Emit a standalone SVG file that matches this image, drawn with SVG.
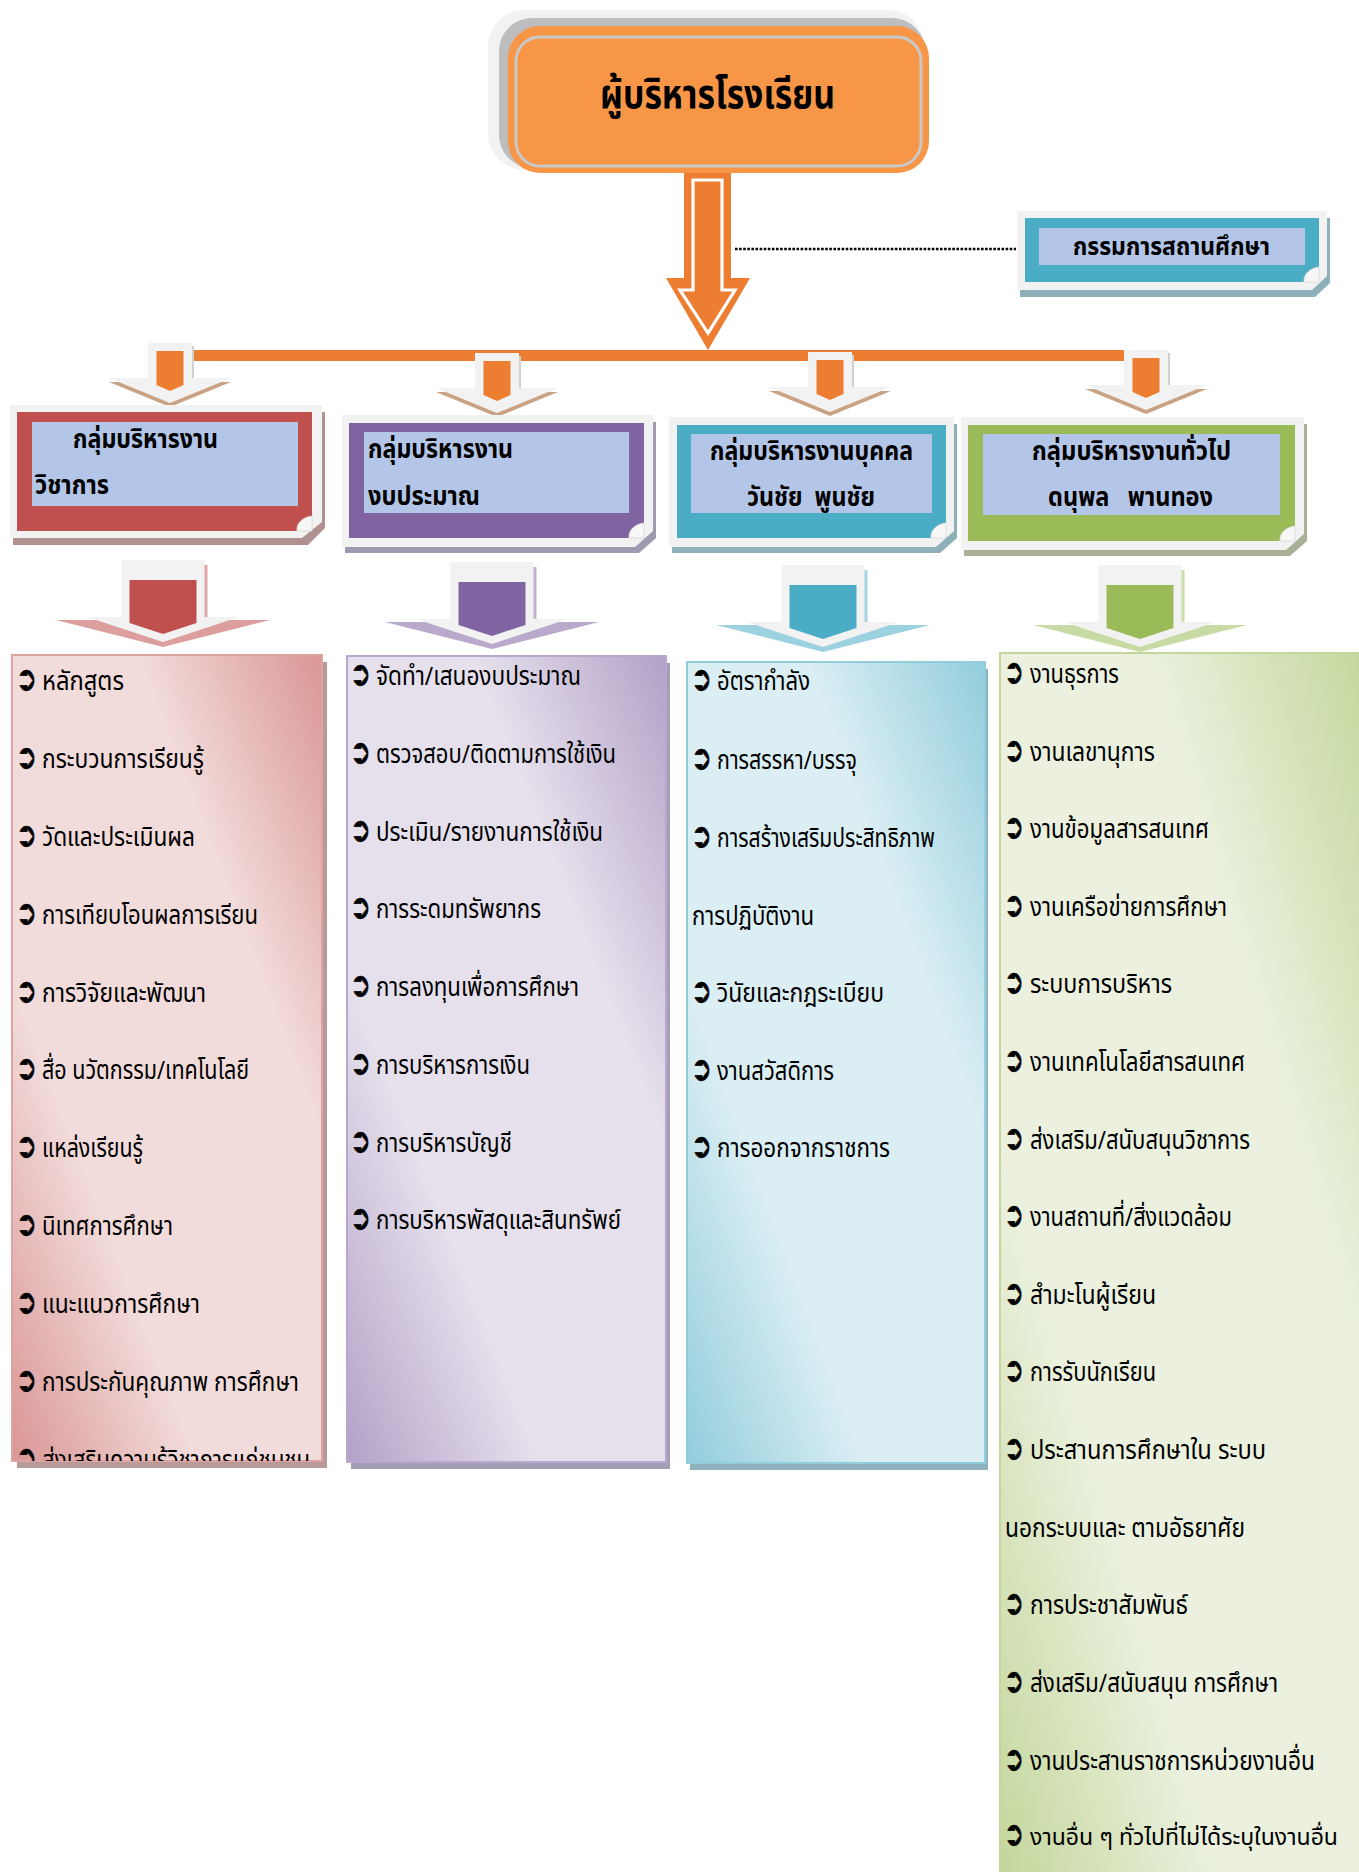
<svg xmlns="http://www.w3.org/2000/svg" xmlns:xlink="http://www.w3.org/1999/xlink" width="1359" height="1872" viewBox="0 0 1359 1872">
<defs>
<style>
.hd{font-family:"Noto Sans Thai","Tahoma","Noto Sans",sans-serif;font-weight:bold;font-size:26px;fill:#000}
.li{font-family:"Noto Sans Thai","Tahoma","Noto Sans",sans-serif;font-size:26px;fill:#000}
.b{font-family:"DejaVu Sans",sans-serif;font-size:34px;font-weight:bold;fill:#000;stroke:#000;stroke-width:0.6px}
.frame{fill:#f2f2f2}
.lav{fill:#b4c6e7}
</style>
<linearGradient id="gR" x1="0" y1="1" x2="1" y2="0"><stop offset="0" stop-color="#d99694"/><stop offset="0.3" stop-color="#f2dcdb"/><stop offset="0.7" stop-color="#f2dcdb"/><stop offset="1" stop-color="#d99694"/></linearGradient>
<linearGradient id="gP" x1="0" y1="1" x2="1" y2="0"><stop offset="0" stop-color="#b2a1c7"/><stop offset="0.3" stop-color="#e5e0ec"/><stop offset="0.7" stop-color="#e5e0ec"/><stop offset="1" stop-color="#b2a1c7"/></linearGradient>
<linearGradient id="gT" x1="0" y1="1" x2="1" y2="0"><stop offset="0" stop-color="#92cddc"/><stop offset="0.3" stop-color="#dbeef4"/><stop offset="0.7" stop-color="#dbeef4"/><stop offset="1" stop-color="#92cddc"/></linearGradient>
<linearGradient id="gG" x1="0" y1="1" x2="1" y2="0"><stop offset="0" stop-color="#c3d69b"/><stop offset="0.3" stop-color="#ebf1de"/><stop offset="0.7" stop-color="#ebf1de"/><stop offset="1" stop-color="#c3d69b"/></linearGradient>
<g id="sa">
<polygon points="-61,39 61,39 0,64" fill="#c8a283"/>
<rect x="-22" y="0" width="44" height="38" fill="#f2f2f2"/>
<rect x="22" y="3" width="2" height="35" fill="#d0d0d0"/>
<polygon points="-61,35 61,35 0,60" fill="#f2f2f2"/>
<path d="M-13.5,8H13.5V42L0,48L-13.5,42Z" fill="#ed7d31"/>
</g>
<g id="ba">
<polygon points="-107,60 107,60 0,87" opacity="0.55"/>
<rect x="-41.5" y="0" width="83" height="58" fill="#f2f2f2"/>
<rect x="41.5" y="5" width="3" height="53" opacity="0.5"/>
<polygon points="-76,57 76,57 0,82" fill="#f2f2f2"/>
<path d="M-33.5,20H33.5V63L0,74L-33.5,63Z"/>
</g>
<path id="curl" d="M-15,0 C-16,-8 -9,-14 0,-15 L0,0 Z" fill="#f7f7f7" stroke="#d8d8d8" stroke-width="0.8"/>
<clipPath id="cR"><rect x="12" y="655" width="310" height="806"/></clipPath>
</defs>

<g id="connectors">
<rect x="170" y="350" width="980" height="11" fill="#ed7d31"/>
<line x1="735" y1="249" x2="1016" y2="249" stroke="#000" stroke-width="2.6" stroke-dasharray="2.6 1.5"/>
<polygon points="684,173 731,173 731,278 750,278 708,350 666,278 684,278" fill="#ed7d31"/>
<polygon points="693,180 722,180 722,290 735,290 708,333 680,290 693,290" fill="#ed7d31" stroke="#fff" stroke-width="3.2"/>
<use xlink:href="#sa" x="170" y="343"/>
<use xlink:href="#sa" x="497" y="353"/>
<use xlink:href="#sa" x="830" y="352"/>
<use xlink:href="#sa" x="1146" y="350"/>
<use xlink:href="#ba" x="163" y="560" fill="#c0504d"/>
<use xlink:href="#ba" x="492" y="562" fill="#8064a2"/>
<use xlink:href="#ba" x="823" y="565" fill="#4bacc6"/>
<use xlink:href="#ba" x="1140" y="565" fill="#9bbb59"/>
</g>

<g id="top">
<rect x="488" y="10" width="436" height="160" rx="36" fill="#f2f2f2"/>
<rect x="499" y="18" width="426" height="150" rx="33" fill="#bdbdbd"/>
<rect x="508" y="26" width="421" height="147" rx="32" fill="#f79646"/>
<rect x="516" y="37" width="405" height="129" rx="24" fill="#f79646" stroke="#c8c8c8" stroke-width="3"/>
<text class="hd" x="600" y="108" style="font-size:40px" textLength="235" lengthAdjust="spacingAndGlyphs">ผู้บริหารโรงเรียน</text>
</g>

<g id="committee">
<path d="M1020,218H1330V283L1315,297H1020Z" fill="#8eb0b8"/>
<path d="M1017,211H1327V276L1312,290H1017Z" class="frame"/>
<rect x="1025" y="218" width="294" height="64" fill="#4bacc6"/>
<rect x="1039" y="228" width="266" height="37" class="lav"/>
<use xlink:href="#curl" x="1319" y="282"/>
<text class="hd" x="1073" y="255" style="font-size:24px" textLength="197" lengthAdjust="spacingAndGlyphs">กรรมการสถานศึกษา</text>
</g>

<g id="group1">
<path d="M13,412H325V528L308,545H13Z" fill="#b09090"/>
<path d="M10,405H322V522L302,538H10Z" class="frame"/>
<rect x="17" y="412" width="295" height="119" fill="#c0504d"/>
<rect x="32" y="422" width="266" height="84" class="lav"/>
<use xlink:href="#curl" x="312" y="531"/>
<text class="hd" x="73" y="448" textLength="145" lengthAdjust="spacingAndGlyphs">กลุ่มบริหารงาน</text>
<text class="hd" x="35" y="494" textLength="74" lengthAdjust="spacingAndGlyphs">วิชาการ</text>
</g>

<g id="group2">
<path d="M345,422H656V538L639,553H345Z" fill="#a09ab0"/>
<path d="M342,415H653V531L635,547H342Z" class="frame"/>
<rect x="349" y="423" width="295" height="115" fill="#8064a2"/>
<rect x="364" y="432" width="265" height="81" class="lav"/>
<use xlink:href="#curl" x="644" y="538"/>
<text class="hd" x="368" y="458" textLength="145" lengthAdjust="spacingAndGlyphs">กลุ่มบริหารงาน</text>
<text class="hd" x="368" y="505" textLength="112" lengthAdjust="spacingAndGlyphs">งบประมาณ</text>
</g>

<g id="group3">
<path d="M672,424H957V538L940,553H672Z" fill="#8eb0b8"/>
<path d="M669,417H954V531L936,547H669Z" class="frame"/>
<rect x="677" y="425" width="269" height="113" fill="#4bacc6"/>
<rect x="691" y="434" width="241" height="79" class="lav"/>
<use xlink:href="#curl" x="946" y="538"/>
<text class="hd" x="710" y="460" textLength="203" lengthAdjust="spacingAndGlyphs">กลุ่มบริหารงานบุคคล</text>
<text class="hd" x="747" y="506" textLength="128" lengthAdjust="spacingAndGlyphs">วันชัย&#160; พูนชัย</text>
</g>

<g id="group4">
<path d="M964,424H1307V541L1290,556H964Z" fill="#a8b098"/>
<path d="M961,417H1304V534L1286,550H961Z" class="frame"/>
<rect x="968" y="425" width="327" height="116" fill="#9bbb59"/>
<rect x="983" y="434" width="297" height="81" class="lav"/>
<use xlink:href="#curl" x="1295" y="541"/>
<text class="hd" x="1032" y="460" textLength="199" lengthAdjust="spacingAndGlyphs">กลุ่มบริหารงานทั่วไป</text>
<text class="hd" x="1048" y="506" textLength="165" lengthAdjust="spacingAndGlyphs">ดนุพล&#160;&#160; พานทอง</text>
</g>

<g id="list1">
<rect x="17" y="662" width="310" height="806" fill="#b89a9a"/>
<rect x="12" y="655" width="310" height="806" fill="url(#gR)" stroke="#dfa3a2" stroke-width="2"/>
<g clip-path="url(#cR)">
<text class="b" x="16" y="690" textLength="21" lengthAdjust="spacingAndGlyphs">➲</text><text class="li" x="42" y="690" textLength="82" lengthAdjust="spacingAndGlyphs">หลักสูตร</text>
<text class="b" x="16" y="768" textLength="21" lengthAdjust="spacingAndGlyphs">➲</text><text class="li" x="42" y="768" textLength="162" lengthAdjust="spacingAndGlyphs">กระบวนการเรียนรู้</text>
<text class="b" x="16" y="846" textLength="21" lengthAdjust="spacingAndGlyphs">➲</text><text class="li" x="42" y="846" textLength="153" lengthAdjust="spacingAndGlyphs">วัดและประเมินผล</text>
<text class="b" x="16" y="924" textLength="21" lengthAdjust="spacingAndGlyphs">➲</text><text class="li" x="42" y="924" textLength="216" lengthAdjust="spacingAndGlyphs">การเทียบโอนผลการเรียน</text>
<text class="b" x="16" y="1002" textLength="21" lengthAdjust="spacingAndGlyphs">➲</text><text class="li" x="42" y="1002" textLength="164" lengthAdjust="spacingAndGlyphs">การวิจัยและพัฒนา</text>
<text class="b" x="16" y="1079" textLength="21" lengthAdjust="spacingAndGlyphs">➲</text><text class="li" x="42" y="1079" textLength="207" lengthAdjust="spacingAndGlyphs">สื่อ นวัตกรรม/เทคโนโลยี</text>
<text class="b" x="16" y="1157" textLength="21" lengthAdjust="spacingAndGlyphs">➲</text><text class="li" x="42" y="1157" textLength="101" lengthAdjust="spacingAndGlyphs">แหล่งเรียนรู้</text>
<text class="b" x="16" y="1235" textLength="21" lengthAdjust="spacingAndGlyphs">➲</text><text class="li" x="42" y="1235" textLength="131" lengthAdjust="spacingAndGlyphs">นิเทศการศึกษา</text>
<text class="b" x="16" y="1313" textLength="21" lengthAdjust="spacingAndGlyphs">➲</text><text class="li" x="42" y="1313" textLength="158" lengthAdjust="spacingAndGlyphs">แนะแนวการศึกษา</text>
<text class="b" x="16" y="1391" textLength="21" lengthAdjust="spacingAndGlyphs">➲</text><text class="li" x="42" y="1391" textLength="257" lengthAdjust="spacingAndGlyphs">การประกันคุณภาพ การศึกษา</text>
<text class="b" x="16" y="1469" textLength="21" lengthAdjust="spacingAndGlyphs">➲</text><text class="li" x="42" y="1469" textLength="268" lengthAdjust="spacingAndGlyphs">ส่งเสริมความรู้วิชาการแก่ชุมชน</text>
</g>
</g>

<g id="list2">
<rect x="351" y="663" width="319" height="806" fill="#a59eb5"/>
<rect x="347" y="656" width="319" height="806" fill="url(#gP)" stroke="#b8a8cf" stroke-width="2"/>
<text class="b" x="350" y="685" textLength="21" lengthAdjust="spacingAndGlyphs">➲</text><text class="li" x="376" y="685" textLength="205" lengthAdjust="spacingAndGlyphs">จัดทำ/เสนองบประมาณ</text>
<text class="b" x="350" y="763" textLength="21" lengthAdjust="spacingAndGlyphs">➲</text><text class="li" x="376" y="763" textLength="240" lengthAdjust="spacingAndGlyphs">ตรวจสอบ/ติดตามการใช้เงิน</text>
<text class="b" x="350" y="841" textLength="21" lengthAdjust="spacingAndGlyphs">➲</text><text class="li" x="376" y="841" textLength="227" lengthAdjust="spacingAndGlyphs">ประเมิน/รายงานการใช้เงิน</text>
<text class="b" x="350" y="918" textLength="21" lengthAdjust="spacingAndGlyphs">➲</text><text class="li" x="376" y="918" textLength="165" lengthAdjust="spacingAndGlyphs">การระดมทรัพยากร</text>
<text class="b" x="350" y="996" textLength="21" lengthAdjust="spacingAndGlyphs">➲</text><text class="li" x="376" y="996" textLength="203" lengthAdjust="spacingAndGlyphs">การลงทุนเพื่อการศึกษา</text>
<text class="b" x="350" y="1074" textLength="21" lengthAdjust="spacingAndGlyphs">➲</text><text class="li" x="376" y="1074" textLength="154" lengthAdjust="spacingAndGlyphs">การบริหารการเงิน</text>
<text class="b" x="350" y="1152" textLength="21" lengthAdjust="spacingAndGlyphs">➲</text><text class="li" x="376" y="1152" textLength="136" lengthAdjust="spacingAndGlyphs">การบริหารบัญชี</text>
<text class="b" x="350" y="1229" textLength="21" lengthAdjust="spacingAndGlyphs">➲</text><text class="li" x="376" y="1229" textLength="245" lengthAdjust="spacingAndGlyphs">การบริหารพัสดุและสินทรัพย์</text>
</g>

<g id="list3">
<rect x="690" y="669" width="298" height="801" fill="#8fb3bd"/>
<rect x="687" y="662" width="298" height="801" fill="url(#gT)" stroke="#92cddc" stroke-width="2"/>
<text class="b" x="691" y="690" textLength="21" lengthAdjust="spacingAndGlyphs">➲</text><text class="li" x="717" y="690" textLength="93" lengthAdjust="spacingAndGlyphs">อัตรากำลัง</text>
<text class="b" x="691" y="769" textLength="21" lengthAdjust="spacingAndGlyphs">➲</text><text class="li" x="717" y="769" textLength="140" lengthAdjust="spacingAndGlyphs">การสรรหา/บรรจุ</text>
<text class="b" x="691" y="847" textLength="21" lengthAdjust="spacingAndGlyphs">➲</text><text class="li" x="717" y="847" textLength="218" lengthAdjust="spacingAndGlyphs">การสร้างเสริมประสิทธิภาพ</text>
<text class="li" x="692" y="925" textLength="122" lengthAdjust="spacingAndGlyphs">การปฏิบัติงาน</text>
<text class="b" x="691" y="1002" textLength="21" lengthAdjust="spacingAndGlyphs">➲</text><text class="li" x="717" y="1002" textLength="167" lengthAdjust="spacingAndGlyphs">วินัยและกฎระเบียบ</text>
<text class="b" x="691" y="1080" textLength="21" lengthAdjust="spacingAndGlyphs">➲</text><text class="li" x="717" y="1080" textLength="117" lengthAdjust="spacingAndGlyphs">งานสวัสดิการ</text>
<text class="b" x="691" y="1157" textLength="21" lengthAdjust="spacingAndGlyphs">➲</text><text class="li" x="717" y="1157" textLength="173" lengthAdjust="spacingAndGlyphs">การออกจากราชการ</text>
</g>

<g id="list4">
<rect x="1000" y="653" width="370" height="1230" fill="url(#gG)" stroke="#c3d69b" stroke-width="2"/>
<text class="b" x="1004" y="683" textLength="20" lengthAdjust="spacingAndGlyphs">➲</text><text class="li" x="1030" y="683" textLength="89" lengthAdjust="spacingAndGlyphs">งานธุรการ</text>
<text class="b" x="1004" y="761" textLength="20" lengthAdjust="spacingAndGlyphs">➲</text><text class="li" x="1030" y="761" textLength="125" lengthAdjust="spacingAndGlyphs">งานเลขานุการ</text>
<text class="b" x="1004" y="838" textLength="20" lengthAdjust="spacingAndGlyphs">➲</text><text class="li" x="1030" y="838" textLength="179" lengthAdjust="spacingAndGlyphs">งานข้อมูลสารสนเทศ</text>
<text class="b" x="1004" y="916" textLength="20" lengthAdjust="spacingAndGlyphs">➲</text><text class="li" x="1030" y="916" textLength="197" lengthAdjust="spacingAndGlyphs">งานเครือข่ายการศึกษา</text>
<text class="b" x="1004" y="993" textLength="20" lengthAdjust="spacingAndGlyphs">➲</text><text class="li" x="1030" y="993" textLength="142" lengthAdjust="spacingAndGlyphs">ระบบการบริหาร</text>
<text class="b" x="1004" y="1071" textLength="20" lengthAdjust="spacingAndGlyphs">➲</text><text class="li" x="1030" y="1071" textLength="215" lengthAdjust="spacingAndGlyphs">งานเทคโนโลยีสารสนเทศ</text>
<text class="b" x="1004" y="1149" textLength="20" lengthAdjust="spacingAndGlyphs">➲</text><text class="li" x="1030" y="1149" textLength="220" lengthAdjust="spacingAndGlyphs">ส่งเสริม/สนับสนุนวิชาการ</text>
<text class="b" x="1004" y="1226" textLength="20" lengthAdjust="spacingAndGlyphs">➲</text><text class="li" x="1030" y="1226" textLength="202" lengthAdjust="spacingAndGlyphs">งานสถานที่/สิ่งแวดล้อม</text>
<text class="b" x="1004" y="1304" textLength="20" lengthAdjust="spacingAndGlyphs">➲</text><text class="li" x="1030" y="1304" textLength="126" lengthAdjust="spacingAndGlyphs">สำมะโนผู้เรียน</text>
<text class="b" x="1004" y="1381" textLength="20" lengthAdjust="spacingAndGlyphs">➲</text><text class="li" x="1030" y="1381" textLength="126" lengthAdjust="spacingAndGlyphs">การรับนักเรียน</text>
<text class="b" x="1004" y="1459" textLength="20" lengthAdjust="spacingAndGlyphs">➲</text><text class="li" x="1030" y="1459" textLength="236" lengthAdjust="spacingAndGlyphs">ประสานการศึกษาใน ระบบ</text>
<text class="li" x="1005" y="1537" textLength="240" lengthAdjust="spacingAndGlyphs">นอกระบบและ ตามอัธยาศัย</text>
<text class="b" x="1004" y="1614" textLength="20" lengthAdjust="spacingAndGlyphs">➲</text><text class="li" x="1030" y="1614" textLength="158" lengthAdjust="spacingAndGlyphs">การประชาสัมพันธ์</text>
<text class="b" x="1004" y="1692" textLength="20" lengthAdjust="spacingAndGlyphs">➲</text><text class="li" x="1030" y="1692" textLength="248" lengthAdjust="spacingAndGlyphs">ส่งเสริม/สนับสนุน การศึกษา</text>
<text class="b" x="1004" y="1770" textLength="20" lengthAdjust="spacingAndGlyphs">➲</text><text class="li" x="1030" y="1770" textLength="285" lengthAdjust="spacingAndGlyphs">งานประสานราชการหน่วยงานอื่น</text>
<text class="b" x="1004" y="1845" textLength="20" lengthAdjust="spacingAndGlyphs">➲</text><text class="li" x="1030" y="1845" style="font-size:23px" textLength="308" lengthAdjust="spacingAndGlyphs">งานอื่น ๆ ทั่วไปที่ไม่ได้ระบุในงานอื่น</text>
</g>
</svg>
